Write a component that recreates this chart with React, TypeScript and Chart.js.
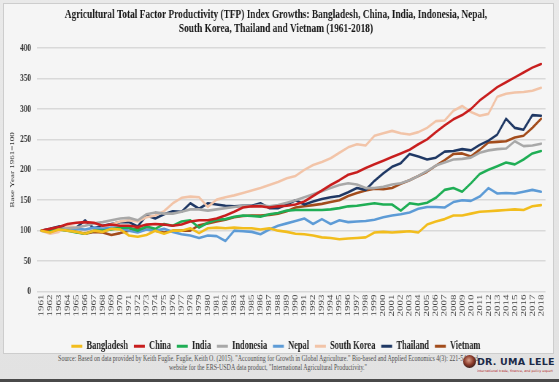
import React, { useEffect, useRef } from "react";
import { Chart, registerables } from "chart.js";

Chart.register(...registerables);

const years = [
  "1961", "1962", "1963", "1964", "1965", "1966", "1967", "1968", "1969", "1970",
  "1971", "1972", "1973", "1974", "1975", "1976", "1977", "1978", "1979", "1980",
  "1981", "1982", "1983", "1984", "1985", "1986", "1987", "1988", "1989", "1990",
  "1991", "1992", "1993", "1994", "1995", "1996", "1997", "1998", "1999", "2000",
  "2001", "2002", "2003", "2004", "2005", "2006", "2007", "2008", "2009", "2010",
  "2011", "2012", "2013", "2014", "2015", "2016", "2017", "2018",
];

const bangladesh = [
  100, 97, 102, 100, 98, 95, 100, 98, 103, 102,
  92, 90, 93, 100, 95, 100, 100, 104, 96, 104,
  105, 104, 105, 104, 104, 102, 104, 100, 98, 95,
  94, 92, 89, 88, 86, 87, 88, 89, 97, 98,
  97, 98, 99, 97, 110, 115, 119, 125, 125, 128,
  131, 132, 133, 134, 135, 134, 140, 142,
];

const china = [
  100, 103, 106, 111, 113, 114, 113, 108, 110, 108,
  108, 106, 110, 111, 110, 108, 110, 115, 117, 117,
  120, 125, 131, 138, 140, 140, 138, 140, 141, 143,
  148, 157, 166, 175, 183, 192, 196, 203, 209, 215,
  221, 227, 233, 242, 250, 262, 273, 283, 290, 300,
  314, 325, 336, 344, 352, 360, 368, 374,
];

const india = [
  100, 100, 102, 100, 97, 95, 100, 100, 102, 105,
  105, 100, 107, 103, 111, 108, 115, 117, 105, 113,
  118, 119, 123, 125, 124, 123, 127, 129, 133, 134,
  134, 134, 134, 135, 137, 140, 141, 143, 145, 143,
  143, 133, 145, 143, 146, 154, 167, 170, 164, 178,
  193, 200, 206, 212, 209, 217, 227, 231,
];

const indonesia = [
  100, 101, 103, 104, 105, 108, 112, 114, 117, 120,
  121, 117, 127, 130, 128, 128, 131, 135, 135, 133,
  135, 137, 139, 141, 140, 142, 140, 142, 146, 150,
  155, 160, 165, 170, 175, 178, 176, 170, 170, 172,
  176, 178, 183, 190, 198, 207, 212, 217, 218, 220,
  228, 232, 234, 235, 247, 239, 240, 243,
];

const nepal = [
  100, 98, 103, 100, 103, 102, 105, 103, 105, 105,
  100, 97, 102, 100, 103, 98, 94, 92, 88, 92,
  91, 83, 100, 99, 98, 94, 102, 108, 112, 116,
  120, 111, 119, 111, 117, 114, 115, 116, 118, 122,
  125, 127, 130, 136, 139, 139, 138, 147, 150, 149,
  156, 170, 161, 162, 161, 164, 167, 164,
];

const southKorea = [
  100, 95, 98, 108, 105, 100, 100, 105, 110, 115,
  117, 115, 122, 125, 132, 145, 154, 156, 155, 139,
  151, 155, 158, 162, 166, 170, 175, 180, 186, 190,
  200, 208, 213, 219, 228, 237, 242, 240, 256, 260,
  264, 260, 258, 262, 269, 280, 281, 297, 305, 295,
  289, 292, 320, 325, 327, 328, 330, 335,
];

const thailand = [
  100, 103, 107, 104, 105, 117, 104, 108, 111, 114,
  114, 107, 125, 120, 127, 132, 131, 145, 136, 145,
  143, 141, 140, 141, 141, 145, 137, 137, 143, 150,
  143, 148, 152, 155, 157, 163, 170, 167, 182, 194,
  205, 211, 226, 222, 217, 220, 230, 231, 234, 232,
  241, 248, 258, 284, 269, 266, 290, 289,
];

const vietnam = [
  100, 102, 102, 103, 98, 95, 98, 97, 93, 96,
  100, 104, 102, 100, 97, 100, 100, 100, 109, 112,
  115, 118, 122, 124, 125, 125, 126, 128, 132, 138,
  140, 142, 144, 147, 150, 157, 162, 166, 169, 168,
  170, 177, 183, 190, 197, 207, 216, 226, 227, 222,
  233, 245, 246, 247, 253, 256, 269, 284,
];

const seriesNames = [
  "Bangladesh", "China", "India", "Indonesia", "Nepal", "South Korea", "Thailand", "Vietnam",
];
const seriesValues = [bangladesh, china, india, indonesia, nepal, southKorea, thailand, vietnam];
const seriesColors = [
  "#f2bd1d", "#c81e1e", "#1fae55", "#a8a8a8", "#5d9bd6", "#f2c4a8", "#1f3864", "#a24c1c",
];

const titleLines = [
  "Agricultural Total Factor Productivity (TFP) Index Growths: Bangladesh, China, India, Indonesia, Nepal,",
  "South Korea, Thailand and Vietnam (1961-2018)",
];
const yAxisTitle = "Base Year 1961=100";
const sourceLines = [
  'Source: Based on data provided by Keith Fuglie. Fuglie, Keith O. (2015). "Accounting for Growth in Global Agriculture." Bio-based and Applied Economics 4(3): 221-54, and',
  'website for the ERS-USDA data product, "International Agricultural Productivity."',
];

const SX = 0.73;
const CW = 752;
const CH = 349;
const SERIF = "'Liberation Serif', 'Times New Roman', serif";

export default function App() {
  const ref = useRef<HTMLCanvasElement>(null);

  useEffect(() => {
    document.body.style.margin = "0";
    const canvas = ref.current;
    if (!canvas) return;
    const chart = new Chart(canvas, {
      type: "line",
      data: {
        labels: years,
        datasets: seriesNames.map((name, i) => ({
          label: name,
          data: seriesValues[i],
          borderColor: seriesColors[i],
          backgroundColor: seriesColors[i],
          borderWidth: 2.6,
          pointRadius: 0,
          tension: 0,
          fill: false,
          borderJoinStyle: "round" as const,
          borderCapStyle: "round" as const,
        })),
      },
      options: {
        responsive: false,
        animation: false,
        devicePixelRatio: 1,
        events: [],
        layout: { padding: { left: 0, right: 7, top: 0, bottom: -9 } },
        plugins: {
          title: {
            display: true,
            text: titleLines,
            color: "#161616",
            font: { family: SERIF, size: 12.8, weight: "bold", lineHeight: 1.1 },
            padding: { top: 4, bottom: 12 },
          },
          legend: {
            position: "bottom",
            labels: {
              boxWidth: 15,
              boxHeight: 3,
              padding: 8,
              color: "#222",
              font: { family: SERIF, size: 11.5, weight: "bold" },
              generateLabels: (c: any) =>
                Chart.defaults.plugins.legend.labels
                  .generateLabels(c)
                  .map((it: any) => ({ ...it, lineWidth: 0 })),
            },
          },
          tooltip: { enabled: false },
        },
        scales: {
          x: {
            offset: true,
            grid: { display: false, drawTicks: false },
            border: { display: false },
            ticks: {
              autoSkip: false,
              maxRotation: 90,
              minRotation: 90,
              padding: 3,
              color: "#444",
              font: { family: SERIF, size: 11 },
            },
            afterFit: (s: any) => {
              s.height = 41;
            },
          },
          y: {
            min: 0,
            max: 400,
            grid: { color: "#d9d9d9", lineWidth: 1.5, drawTicks: false },
            border: { display: false },
            ticks: {
              stepSize: 50,
              padding: 8,
              color: "#3a3a3a",
              font: { family: SERIF, size: 10, weight: "bold" },
            },
            title: {
              display: true,
              text: yAxisTitle,
              color: "#333",
              font: { family: SERIF, size: 9 },
              padding: { top: 6, bottom: 0 },
            },
            afterFit: (s: any) => {
              s.width = 45;
            },
          },
        },
      },
    });
    return () => chart.destroy();
  }, []);

  return (
    <div
      style={{
        position: "relative",
        width: 559,
        height: 382,
        overflow: "hidden",
        background: "linear-gradient(#e9e9e9, #e2e2e2)",
      }}
    >
      <div
        style={{
          position: "absolute",
          left: 3,
          top: 3,
          width: 549,
          height: CH,
          border: "1px solid #cdcdcd",
          background: "#f5f5f5",
          overflow: "hidden",
        }}
      >
        <canvas
          ref={ref}
          width={CW}
          height={CH}
          style={{
            position: "absolute",
            left: 0,
            top: 0,
            width: CW,
            height: CH,
            transform: `scaleX(${SX})`,
            transformOrigin: "0 0",
          }}
        />
      </div>
      <div
        style={{
          position: "absolute",
          left: 268 - 350,
          top: 354,
          width: 700,
          textAlign: "center",
          fontFamily: SERIF,
          fontSize: 8.2,
          lineHeight: "9px",
          color: "#505050",
          transform: `scaleX(${SX})`,
          transformOrigin: "50% 0",
          whiteSpace: "nowrap",
        }}
      >
        <div>{sourceLines[0]}</div>
        <div>{sourceLines[1]}</div>
      </div>
      <div
        style={{
          position: "absolute",
          left: 463,
          top: 355,
          width: 13,
          height: 13,
          borderRadius: "50%",
          background: "radial-gradient(circle at 45% 40%, #d9a08a 0%, #8a3a2a 45%, #2a1a1a 80%)",
        }}
      />
      <div
        style={{
          position: "absolute",
          left: 477,
          top: 356,
          fontFamily: "'DejaVu Sans', Arial, sans-serif",
          fontWeight: "bold",
          fontSize: 9.5,
          letterSpacing: 0.2,
          color: "#1b2a47",
          whiteSpace: "nowrap",
        }}
      >
        DR. UMA LELE
      </div>
      <div
        style={{
          position: "absolute",
          left: 477,
          top: 369,
          fontFamily: "'DejaVu Sans', Arial, sans-serif",
          fontSize: 6,
          color: "#b02020",
          whiteSpace: "nowrap",
          transform: "scale(0.55)",
          transformOrigin: "0 0",
        }}
      >
        international trade, finance, and policy expert
      </div>
      <div
        style={{
          position: "absolute",
          left: 0,
          top: 379,
          width: 559,
          height: 3,
          background: "#4a4a4a",
        }}
      />
    </div>
  );
}
